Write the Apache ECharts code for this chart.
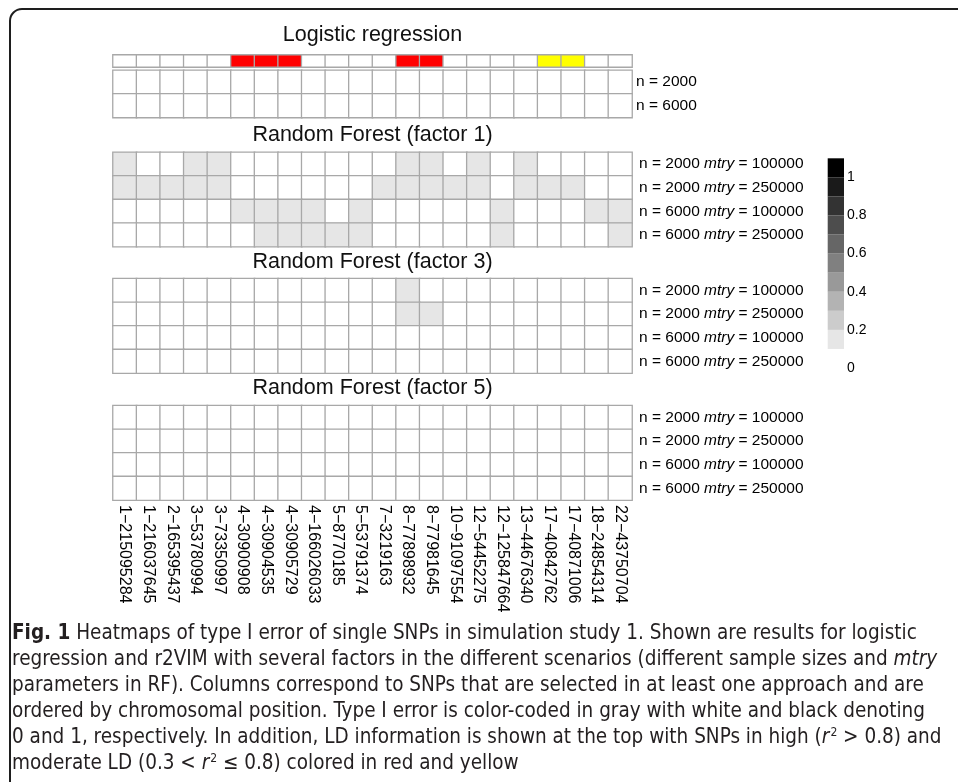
<!DOCTYPE html>
<html>
<head>
<meta charset="utf-8">
<script src="https://cdn.jsdelivr.net/npm/echarts@6/dist/echarts.min.js"></script>
<style>
html,body{margin:0;padding:0;background:#fff;}
#chart{width:958px;height:782px;}
</style>
</head>
<body>
<div id="chart"></div>
<script>
// ---------------- data ----------------
const snps = ['1\u2212215095284','1\u2212216037645','2\u2212165395437','3\u221253780994','3\u221273350997',
  '4\u221230900908','4\u221230904535','4\u221230905729','4\u2212166026033','5\u22128770185','5\u221253791374',
  '7\u22123219163','8\u221277898932','8\u221277981645','10\u221291097554','12\u221254452275','12\u2212125847664',
  '13\u221244676340','17\u221240842762','17\u221240871006','18\u221224854314','22\u221243750704'];

// LD information: 0 = none, 1 = moderate (yellow), 2 = high (red)
const ldLevel = [0,0,0,0,0,2,2,2,0,0,0,0,2,2,0,0,0,0,1,1,0,0];

const lrRows = ['n = 2000','n = 6000'];
const lrValues = [
  [0,0,0,0,0,0,0,0,0,0,0,0,0,0,0,0,0,0,0,0,0,0],
  [0,0,0,0,0,0,0,0,0,0,0,0,0,0,0,0,0,0,0,0,0,0]
];

const rfRows = ['n = 2000 mtry = 100000','n = 2000 mtry = 250000','n = 6000 mtry = 100000','n = 6000 mtry = 250000'];
const rf1Values = [
  [0.05,0,0,0.05,0.05,0,0,0,0,0,0,0,0.05,0.05,0,0.05,0,0.05,0,0,0,0],
  [0.05,0.05,0.05,0.05,0.05,0,0,0,0,0,0,0.05,0.05,0.05,0.05,0.05,0,0.05,0.05,0.05,0,0],
  [0,0,0,0,0,0.05,0.05,0.05,0.05,0,0.05,0,0,0,0,0,0.05,0,0,0,0.05,0.05],
  [0,0,0,0,0,0,0.05,0.05,0.05,0.05,0.05,0,0,0,0,0,0.05,0,0,0,0,0.05]
];
const rf3Values = [
  [0,0,0,0,0,0,0,0,0,0,0,0,0.05,0,0,0,0,0,0,0,0,0],
  [0,0,0,0,0,0,0,0,0,0,0,0,0.05,0.05,0,0,0,0,0,0,0,0],
  [0,0,0,0,0,0,0,0,0,0,0,0,0,0,0,0,0,0,0,0,0,0],
  [0,0,0,0,0,0,0,0,0,0,0,0,0,0,0,0,0,0,0,0,0,0]
];
const rf5Values = [
  [0,0,0,0,0,0,0,0,0,0,0,0,0,0,0,0,0,0,0,0,0,0],
  [0,0,0,0,0,0,0,0,0,0,0,0,0,0,0,0,0,0,0,0,0,0],
  [0,0,0,0,0,0,0,0,0,0,0,0,0,0,0,0,0,0,0,0,0,0],
  [0,0,0,0,0,0,0,0,0,0,0,0,0,0,0,0,0,0,0,0,0,0]
];

const panelTitles = ['Logistic regression','Random Forest (factor 1)','Random Forest (factor 3)','Random Forest (factor 5)'];

// grey scale bins (0..1 in steps of 0.1), light to dark
const greyBreaks = [0,0.1,0.2,0.3,0.4,0.5,0.6,0.7,0.8,0.9,1.0];
const greyColors = ['#e6e6e6','#cccccc','#b3b3b3','#999999','#808080','#666666','#4d4d4d','#333333','#1a1a1a','#000000'];
const legendShift = 0.1;   // colour bar is drawn one bin above its labels in the original
const legendTicks = [0,0.2,0.4,0.6,0.8,1];

const ldColors = {0:'#ffffff',1:'#ffff00',2:'#ff0000'};

const captionLines = [
  '{b|Fig. 1} Heatmaps of type I error of single SNPs in simulation study 1. Shown are results for logistic',
  'regression and r2VIM with several factors in the different scenarios (different sample sizes and {i|mtry}',
  'parameters in RF). Columns correspond to SNPs that are selected in at least one approach and are',
  'ordered by chromosomal position. Type I error is color-coded in gray with white and black denoting',
  '0 and 1, respectively. In addition, LD information is shown at the top with SNPs in high ({i|r}{s|2} > 0.8) and',
  'moderate LD (0.3 < {i|r}{s|2} \u2264 0.8) colored in red and yellow'
];

// ---------------- layout ----------------
const GL = 113, GW = 519;
const panels = [
  {top:55, height:12},     // LD
  {top:70.3, height:47.2}, // LR
  {top:152.3, height:94.4},
  {top:278.7, height:94.4},
  {top:405.7, height:94.4}
];
const titleY = [35, 135.5, 262, 388.5];

function toCells(mat){
  const out = [];
  mat.forEach((row, r) => row.forEach((v, c) => out.push([c, r, v])));
  return out;
}

const cellBorder = {borderColor:'#a8a8a8', borderWidth:1.3};
const rowFont = 'Liberation Sans';

const grids = [], xAxes = [], yAxes = [], series = [];
const rowSets = [['LD'], lrRows, rfRows, rfRows, rfRows];
const mats = [[ldLevel], lrValues, rf1Values, rf3Values, rf5Values];

panels.forEach((p, i) => {
  grids.push({left:GL, width:GW, top:p.top, height:p.height, containLabel:false});
  xAxes.push({
    type:'category', gridIndex:i, data:snps,
    axisLine:{show:false}, axisTick:{show:false}, splitLine:{show:false},
    axisLabel: i === 4 ? {
      show:true, rotate:-90, interval:0, margin:5,
      fontFamily:rowFont, fontSize:16, color:'#000'
    } : {show:false}
  });
  yAxes.push({
    type:'category', gridIndex:i, data:rowSets[i], inverse:true, position:'right',
    axisLine:{show:false}, axisTick:{show:false}, splitLine:{show:false},
    axisLabel:{
      show: i !== 0, margin: i === 1 ? 4 : 7,
      fontFamily:rowFont, fontSize:15.5, color:'#000',
      formatter: v => v.replace('mtry', '{i|mtry}'),
      rich:{ i:{fontStyle:'italic', fontFamily:rowFont, fontSize:15.5, color:'#000'} }
    }
  });
  series.push({
    type:'heatmap', xAxisIndex:i, yAxisIndex:i,
    data: toCells(mats[i]),
    itemStyle: cellBorder,
    emphasis:{disabled:true},
    silent:true, animation:false
  });
});

// colour legend grid
const LG = 5;
grids.push({left:827.7, width:16.3, top:158.3, height:209.7});
xAxes.push({type:'category', gridIndex:LG, data:[''], show:false});
yAxes.push({
  type:'value', gridIndex:LG, min:0, max:greyBreaks[greyBreaks.length-1] + legendShift, interval:0.2,
  position:'right',
  axisLine:{show:false}, axisTick:{show:false}, splitLine:{show:false},
  axisLabel:{
    show:true, margin:3, showMaxLabel:false, fontFamily:rowFont, fontSize:14, color:'#000',
    formatter: v => legendTicks.some(t => Math.abs(t - v) < 1e-6) ? String(+v.toFixed(1)) : ''
  }
});
series.push({
  type:'bar', xAxisIndex:LG, yAxisIndex:LG, stack:'leg', data:[legendShift],
  barWidth:'100%', itemStyle:{color:'rgba(0,0,0,0)'}, silent:true, animation:false
});
greyColors.forEach((col, k) => {
  series.push({
    type:'bar', xAxisIndex:LG, yAxisIndex:LG, stack:'leg',
    data:[+(greyBreaks[k+1] - greyBreaks[k]).toFixed(2)],
    barWidth:'100%', itemStyle:{color:col}, silent:true, animation:false
  });
});

// visual maps
const greyPieces = [{value:0, color:'#ffffff'}];
greyColors.forEach((col, k) => greyPieces.push({gt:greyBreaks[k], lte:greyBreaks[k+1], color:col}));

const graphic = [
  {type:'rect', shape:{x:10, y:9, width:970, height:820, r:12},
   style:{fill:'none', stroke:'#1e1e1e', lineWidth:2}, silent:true}
];
panelTitles.forEach((t, i) => graphic.push({
  type:'text', x:GL + GW/2, y:titleY[i], silent:true,
  style:{text:t, align:'center', verticalAlign:'middle', font:'21.5px "Liberation Sans"', fill:'#111'}
}));
const capFont = '"Liberation Sans Narrow", "DejaVu Sans Condensed", sans-serif';
const capSize = 20.5;
captionLines.forEach((line, k) => graphic.push({
  type:'text', x:12, y:634 + 26*k, silent:true,
  style:{
    text:line, align:'left', verticalAlign:'middle',
    fontFamily:capFont, fontSize:capSize, fill:'#231f20',
    rich:{
      b:{fontWeight:'bold', fontFamily:capFont, fontSize:capSize, fill:'#231f20'},
      i:{fontStyle:'italic', fontFamily:capFont, fontSize:capSize, fill:'#231f20'},
      s:{fontFamily:capFont, fontSize:12, fill:'#231f20', verticalAlign:'top', padding:[0,0,10,1]}
    }
  }
}));

const chart = echarts.init(document.getElementById('chart'), null, {renderer:'canvas'});
chart.setOption({
  animation:false,
  backgroundColor:'#ffffff',
  grid:grids, xAxis:xAxes, yAxis:yAxes, series:series,
  visualMap:[
    {type:'piecewise', show:false, seriesIndex:[1,2,3,4], pieces:greyPieces},
    {type:'piecewise', show:false, seriesIndex:[0],
     pieces:Object.keys(ldColors).map(k => ({value:+k, color:ldColors[k]}))}
  ],
  graphic:graphic
});
</script>
</body>
</html>
